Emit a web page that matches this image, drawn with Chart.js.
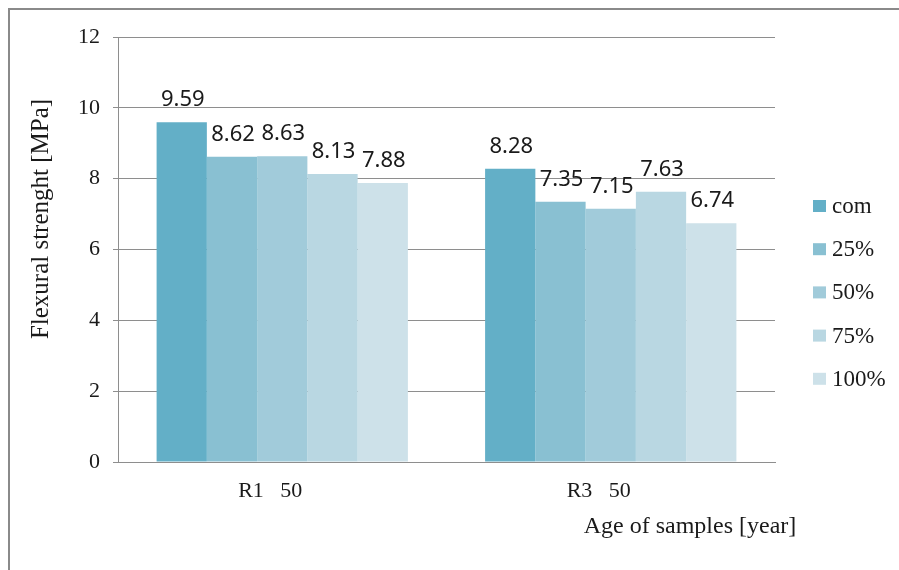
<!DOCTYPE html>
<html>
<head>
<meta charset="utf-8">
<script src="https://cdn.jsdelivr.net/npm/chart.js@4/dist/chart.umd.min.js"></script>
<style>
  html, body { margin: 0; padding: 0; background: #ffffff; }
  #wrap { width: 899px; height: 570px; position: relative; }
</style>
</head>
<body>
<div id="wrap"><canvas id="c" width="899" height="570"></canvas></div>
<script>
// Flexural strength by sample group and replacement level
const categories = ['R1   50', 'R3   50'];
const seriesNames = ['com', '25%', '50%', '75%', '100%'];
const valuesCom = [9.59, 8.28];
const values25 = [8.62, 7.35];
const values50 = [8.63, 7.15];
const values75 = [8.13, 7.63];
const values100 = [7.88, 6.74];
const yTicks = [0, 2, 4, 6, 8, 10, 12];
const yTitle = 'Flexural strenght [MPa]';
const xTitle = 'Age of samples [year]';

const seriesValues = [valuesCom, values25, values50, values75, values100];
const seriesColors = ['#63afc7', '#89c0d2', '#a1cbda', '#b9d7e2', '#cde1e9'];

const serif = '"Liberation Serif", "Times New Roman", serif';
const gridGray = '#8e8e8e';

// Frame around the figure
const framePlugin = {
  id: 'frame',
  beforeDraw(chart) {
    const ctx = chart.ctx;
    ctx.save();
    ctx.strokeStyle = '#8a8a8a';
    ctx.lineWidth = 2;
    ctx.beginPath();
    ctx.moveTo(9, 570);
    ctx.lineTo(9, 9);
    ctx.lineTo(899, 9);
    ctx.stroke();
    ctx.restore();
  }
};

// Value labels above each bar
const valueLabelPlugin = {
  id: 'valueLabels',
  afterDatasetsDraw(chart) {
    const ctx = chart.ctx;
    ctx.save();
    ctx.font = '22px "Noto Sans", sans-serif';
    ctx.fillStyle = '#1a1a1a';
    ctx.textAlign = 'center';
    ctx.textBaseline = 'alphabetic';
    chart.data.datasets.forEach((ds, i) => {
      const meta = chart.getDatasetMeta(i);
      meta.data.forEach((bar, j) => {
        ctx.fillText(ds.data[j].toFixed(2), bar.x + 1, bar.y - 16);
      });
    });
    ctx.restore();
  }
};

// Legend and axis titles
const annotationPlugin = {
  id: 'annotations',
  afterDraw(chart) {
    const ctx = chart.ctx;
    ctx.save();
    ctx.font = '23px ' + serif;
    ctx.fillStyle = '#1a1a1a';
    ctx.textBaseline = 'middle';
    ctx.textAlign = 'left';
    chart.data.datasets.forEach((ds, i) => {
      const cy = 206 + i * 43.2;
      ctx.fillStyle = ds.backgroundColor;
      ctx.fillRect(813, cy - 6, 13, 12);
      ctx.fillStyle = '#1a1a1a';
      ctx.fillText(ds.label, 832, cy + 1);
    });

    ctx.textAlign = 'center';
    ctx.font = '24px ' + serif;
    ctx.fillText(xTitle, 690, 527);

    ctx.font = '25px ' + serif;
    ctx.translate(41, 219);
    ctx.rotate(-Math.PI / 2);
    ctx.fillText(yTitle, 0, 0);
    ctx.restore();
  }
};

new Chart(document.getElementById('c'), {
  type: 'bar',
  data: {
    labels: categories,
    datasets: seriesNames.map((name, i) => ({
      label: name,
      data: seriesValues[i],
      backgroundColor: seriesColors[i],
      borderWidth: 0,
      barPercentage: 1.0,
      categoryPercentage: 0.765
    }))
  },
  options: {
    responsive: false,
    animation: false,
    devicePixelRatio: 1,
    layout: { padding: { left: 0, top: 37, right: 124, bottom: 0 } },
    plugins: {
      legend: { display: false },
      tooltip: { enabled: false },
      title: { display: false }
    },
    scales: {
      x: {
        grid: { display: false },
        border: { display: true, color: gridGray, width: 1 },
        ticks: {
          color: '#1a1a1a',
          font: { family: serif, size: 22 },
          padding: 8,
          labelOffset: -12,
          maxRotation: 0
        },
        afterFit(scale) { scale.height = 108; }
      },
      y: {
        min: 0,
        max: 12,
        afterBuildTicks(scale) { scale.ticks = yTicks.map(v => ({ value: v })); },
        grid: { color: gridGray, lineWidth: 1, tickLength: 5, drawTicks: true },
        border: { display: true, color: gridGray, width: 1 },
        ticks: {
          color: '#1a1a1a',
          font: { family: serif, size: 22 },
          padding: 13
        },
        afterFit(scale) { scale.width = 118; }
      }
    }
  },
  plugins: [framePlugin, valueLabelPlugin, annotationPlugin]
});
</script>
</body>
</html>
